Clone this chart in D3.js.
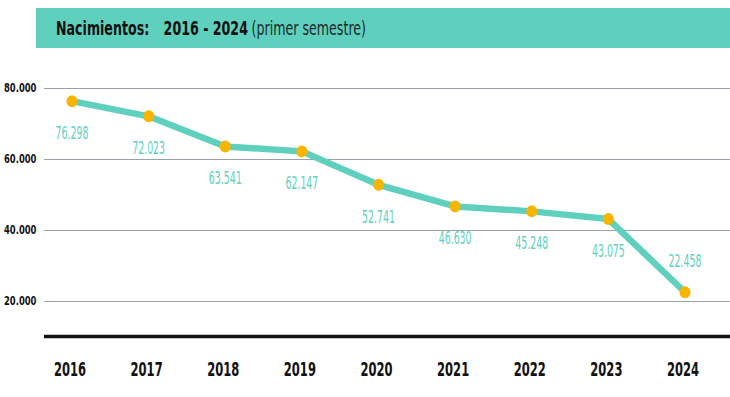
<!DOCTYPE html>
<html>
<head>
<meta charset="utf-8">
<script src="https://cdn.jsdelivr.net/npm/d3@7"></script>
<style>
  body { margin: 0; background: #fff; }
  svg { display: block; }
</style>
</head>
<body>
<svg id="chart"></svg>
<script>
const years = ['2016', '2017', '2018', '2019', '2020', '2021', '2022', '2023', '2024'];
const births = [76298, 72023, 63541, 62147, 52741, 46630, 45248, 43075, 22458];
const yTicks = [20000, 40000, 60000, 80000];

const width = 730, height = 397;
const teal = '#5fd0bd';
const font = '"DejaVu Sans Condensed", "Liberation Sans", sans-serif';
const fmt = v => d3.format(',')(v).replace(/,/g, '.');

const svg = d3.select('#chart')
  .attr('width', width)
  .attr('height', height);

// title banner
svg.append('rect')
  .attr('x', 36).attr('y', 8)
  .attr('width', width - 36).attr('height', 40)
  .attr('fill', teal);

const title = svg.append('text')
  .attr('transform', 'translate(56,35) scale(0.72,1)')
  .attr('font-family', font)
  .attr('font-size', 19.5)
  .attr('fill', '#111');
title.append('tspan').attr('font-weight', 'bold').text('Nacimientos:');
title.append('tspan').attr('dx', 20).attr('font-weight', 'bold').text('2016 - 2024');
title.append('tspan').attr('dx', 5).attr('fill', '#1c2a2a').text('(primer semestre)');

const x = d3.scalePoint()
  .domain(years)
  .range([72, 685]);

const y = d3.scaleLinear()
  .domain([10000, 80000])
  .range([336.5, 88]);

// grid
const grid = svg.append('g')
  .attr('transform', 'translate(44,0)')
  .call(d3.axisLeft(y).tickValues(yTicks).tickSize(-(width - 44)).tickFormat(''));
grid.select('.domain').remove();
grid.selectAll('.tick line').attr('stroke', '#9aa0a8').attr('stroke-width', 1);

svg.selectAll('.ylab')
  .data(yTicks)
  .join('text')
  .attr('class', 'ylab')
  .attr('transform', d => 'translate(4,' + (y(d) + 4) + ') scale(0.78,1)')
  .attr('font-family', font)
  .attr('font-weight', 'bold')
  .attr('font-size', 12)
  .attr('fill', '#111')
  .text(fmt);

// baseline
svg.append('line')
  .attr('x1', 44).attr('x2', width)
  .attr('y1', y(10000)).attr('y2', y(10000))
  .attr('stroke', '#111').attr('stroke-width', 3.5);

// x labels
svg.selectAll('.xlab')
  .data(years)
  .join('text')
  .attr('class', 'xlab')
  .attr('transform', d => 'translate(' + (x(d) - 2) + ',376) scale(0.64,1)')
  .attr('text-anchor', 'middle')
  .attr('font-family', font)
  .attr('font-weight', 'bold')
  .attr('font-size', 20)
  .attr('fill', '#111')
  .text(d => d);

const pts = years.map((yr, i) => ({ yr, v: births[i] }));

svg.append('path')
  .datum(pts)
  .attr('d', d3.line().x(d => x(d.yr)).y(d => y(d.v)))
  .attr('fill', 'none')
  .attr('stroke', teal)
  .attr('stroke-width', 6.5)
  .attr('stroke-linejoin', 'round');

svg.selectAll('.dot')
  .data(pts)
  .join('ellipse')
  .attr('class', 'dot')
  .attr('cx', d => x(d.yr))
  .attr('cy', d => y(d.v))
  .attr('rx', 5.5)
  .attr('ry', 6)
  .attr('fill', '#f7b500');

svg.selectAll('.vlab')
  .data(pts)
  .join('text')
  .attr('class', 'vlab')
  .attr('transform', (d, i) => 'translate(' + x(d.yr) + ',' +
    (i === pts.length - 1 ? y(d.v) - 25 : y(d.v) + 38) + ') scale(0.58,1)')
  .attr('text-anchor', 'middle')
  .attr('font-family', font)
  .attr('font-size', 18)
  .attr('fill', teal)
  .text(d => fmt(d.v));
</script>
</body>
</html>
